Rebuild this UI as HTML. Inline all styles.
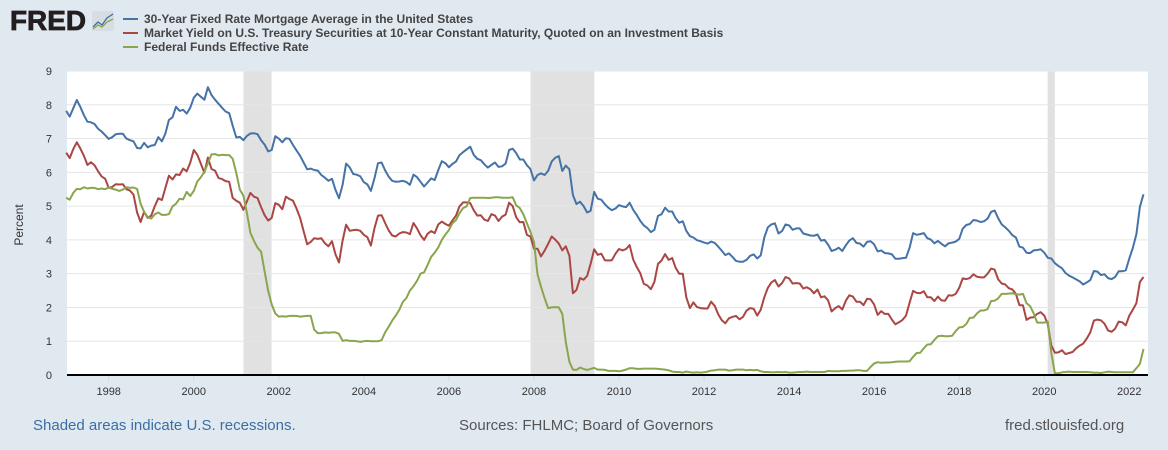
<!DOCTYPE html>
<html><head><meta charset="utf-8"><style>
body{margin:0;background:#e1e9f0;font-family:"Liberation Sans",sans-serif;}
#wrap{position:relative;width:1168px;height:450px;overflow:hidden;background:#e1e9f0;}
</style></head><body>
<div id="wrap">
<svg id="svg" width="1168" height="450" xmlns="http://www.w3.org/2000/svg">
<g>
<text x="10" y="30" font-family="Liberation Sans" font-weight="bold" font-size="28" fill="#231f20" textLength="76" lengthAdjust="spacingAndGlyphs" stroke="#231f20" stroke-width="0.8">FRED</text>
<rect x="92" y="11" width="22" height="20" rx="2" fill="#d8dde2"/>
<polyline points="93,27 98,22 102,25 107,18 113,14" fill="none" stroke="#3a6ea5" stroke-width="1.3"/>
<polyline points="93,29 98,25 102,27 107,22 113,19" fill="none" stroke="#89a54e" stroke-width="1.3"/>
</g>
<g>
<line x1="123" y1="19" x2="138" y2="19" stroke="#4572a7" stroke-width="2"/>
<text x="144" y="23" font-size="12" font-weight="bold" fill="#444">30-Year Fixed Rate Mortgage Average in the United States</text>
<line x1="123" y1="33" x2="138" y2="33" stroke="#aa4643" stroke-width="2"/>
<text x="144" y="37" font-size="12" font-weight="bold" fill="#444">Market Yield on U.S. Treasury Securities at 10-Year Constant Maturity, Quoted on an Investment Basis</text>
<line x1="123" y1="47" x2="138" y2="47" stroke="#89a54e" stroke-width="2"/>
<text x="144" y="51" font-size="12" font-weight="bold" fill="#444">Federal Funds Effective Rate</text>
</g>
<rect x="67" y="71" width="1081" height="304" fill="#fff"/>
<g id="rec"></g><g id="grid"></g><g id="series"></g><g id="axes"></g>
<text transform="translate(23,225) rotate(-90)" text-anchor="middle" font-size="12" fill="#333">Percent</text>
<text x="33" y="430" font-size="15" fill="#3a6ea5">Shaded areas indicate U.S. recessions.</text>
<text x="459" y="430" font-size="15" fill="#555">Sources: FHLMC; Board of Governors</text>
<text x="1005" y="430" font-size="15" fill="#555">fred.stlouisfed.org</text>
</svg>
</div>
<script>
const startYear = 1997;
const mortgage = [
7.82,7.65,7.90,8.14,7.94,7.69,7.50,7.48,7.43,7.29,7.21,7.10,
6.99,7.04,7.13,7.14,7.14,7.00,6.95,6.92,6.72,6.71,6.87,6.74,
6.79,6.81,7.04,6.92,7.15,7.55,7.63,7.94,7.82,7.85,7.74,7.91,
8.21,8.33,8.24,8.15,8.52,8.29,8.15,8.03,7.91,7.80,7.75,7.38,
7.03,7.05,6.95,7.08,7.15,7.16,7.13,6.95,6.82,6.62,6.66,7.07,
7.00,6.89,7.01,6.99,6.81,6.65,6.49,6.29,6.09,6.11,6.07,6.05,
5.92,5.84,5.75,5.81,5.48,5.23,5.63,6.26,6.15,5.95,5.93,5.88,
5.71,5.64,5.45,5.83,6.27,6.29,6.06,5.87,5.75,5.72,5.73,5.75,
5.71,5.63,5.93,5.86,5.72,5.58,5.70,5.82,5.77,6.07,6.33,6.27,
6.15,6.25,6.32,6.51,6.60,6.68,6.76,6.52,6.40,6.36,6.24,6.14,
6.22,6.29,6.16,6.18,6.26,6.66,6.70,6.57,6.38,6.38,6.21,6.10,
5.76,5.92,5.97,5.92,6.04,6.32,6.43,6.48,6.04,6.20,6.09,5.33,
5.06,5.13,5.00,4.81,4.86,5.42,5.22,5.19,5.06,4.95,4.88,4.93,
5.03,4.99,4.97,5.10,4.89,4.74,4.56,4.43,4.35,4.23,4.30,4.71,
4.76,4.95,4.84,4.84,4.64,4.51,4.55,4.27,4.11,4.07,3.99,3.96,
3.92,3.89,3.95,3.91,3.80,3.68,3.55,3.60,3.50,3.38,3.35,3.35,
3.41,3.53,3.57,3.45,3.54,4.07,4.37,4.46,4.49,4.19,4.26,4.46,
4.43,4.30,4.34,4.34,4.19,4.16,4.13,4.12,4.16,3.98,4.00,3.86,
3.67,3.71,3.77,3.67,3.84,3.98,4.05,3.91,3.89,3.80,3.94,3.96,
3.87,3.66,3.69,3.61,3.60,3.57,3.44,3.44,3.46,3.47,3.77,4.20,
4.15,4.17,4.20,4.05,4.01,3.90,3.97,3.88,3.81,3.90,3.92,3.95,
4.03,4.33,4.44,4.47,4.59,4.57,4.53,4.55,4.63,4.83,4.87,4.64,
4.46,4.37,4.27,4.14,4.07,3.80,3.77,3.62,3.61,3.69,3.70,3.72,
3.62,3.47,3.45,3.31,3.23,3.16,3.02,2.94,2.89,2.83,2.77,2.68,
2.74,2.81,3.08,3.06,2.96,2.98,2.87,2.84,2.90,3.07,3.07,3.10,
3.45,3.76,4.17,4.98,5.35];
const treasury = [
6.58,6.42,6.69,6.89,6.71,6.49,6.22,6.30,6.21,6.03,5.88,5.81,
5.54,5.57,5.65,5.64,5.65,5.50,5.46,5.34,4.81,4.53,4.83,4.65,
4.72,5.00,5.23,5.18,5.54,5.90,5.79,5.94,5.92,6.11,6.03,6.28,
6.66,6.52,6.26,5.99,6.44,6.10,6.05,5.83,5.80,5.74,5.72,5.24,
5.16,5.10,4.89,5.14,5.39,5.28,5.24,4.97,4.73,4.57,4.65,5.09,
5.04,4.91,5.28,5.21,5.16,4.93,4.65,4.26,3.87,3.94,4.05,4.03,
4.05,3.90,3.81,3.96,3.57,3.33,3.98,4.45,4.27,4.29,4.30,4.27,
4.15,4.08,3.83,4.35,4.72,4.73,4.50,4.28,4.13,4.10,4.19,4.23,
4.22,4.17,4.50,4.34,4.14,4.00,4.18,4.26,4.20,4.46,4.54,4.47,
4.42,4.57,4.72,4.99,5.11,5.11,5.09,4.88,4.72,4.73,4.60,4.56,
4.76,4.72,4.56,4.69,4.75,5.10,5.00,4.67,4.52,4.53,4.15,4.10,
3.74,3.74,3.51,3.68,3.88,4.10,4.01,3.89,3.69,3.81,3.53,2.42,
2.52,2.87,2.82,2.93,3.29,3.72,3.56,3.59,3.40,3.39,3.40,3.59,
3.73,3.69,3.73,3.85,3.42,3.20,3.01,2.70,2.65,2.54,2.76,3.29,
3.39,3.58,3.41,3.46,3.17,3.00,3.00,2.30,1.98,2.15,2.01,1.98,
1.97,1.97,2.17,2.05,1.80,1.62,1.53,1.68,1.72,1.75,1.65,1.72,
1.91,1.98,1.96,1.76,1.93,2.30,2.58,2.74,2.81,2.62,2.72,2.90,
2.86,2.71,2.72,2.71,2.56,2.60,2.54,2.42,2.53,2.30,2.33,2.21,
1.88,1.98,2.04,1.94,2.20,2.36,2.32,2.17,2.17,2.07,2.26,2.24,
2.09,1.78,1.89,1.81,1.81,1.64,1.50,1.56,1.63,1.76,2.14,2.49,
2.43,2.42,2.48,2.30,2.30,2.19,2.32,2.21,2.20,2.36,2.35,2.40,
2.58,2.86,2.84,2.87,2.98,2.91,2.89,2.89,3.00,3.15,3.12,2.83,
2.71,2.68,2.57,2.53,2.40,2.07,2.06,1.63,1.70,1.71,1.81,1.86,
1.76,1.50,0.87,0.66,0.67,0.73,0.62,0.65,0.68,0.79,0.87,0.93,
1.08,1.26,1.61,1.64,1.62,1.52,1.32,1.28,1.37,1.58,1.56,1.47,
1.76,1.93,2.13,2.75,2.90];
const fedfunds = [
5.25,5.19,5.39,5.51,5.50,5.56,5.52,5.54,5.54,5.50,5.52,5.50,
5.56,5.51,5.49,5.45,5.49,5.56,5.54,5.55,5.51,5.07,4.83,4.68,
4.63,4.76,4.81,4.74,4.74,4.76,4.99,5.07,5.22,5.20,5.42,5.30,
5.45,5.73,5.85,6.02,6.27,6.53,6.54,6.50,6.52,6.51,6.51,6.40,
5.98,5.49,5.31,4.80,4.21,3.97,3.77,3.65,3.07,2.49,2.09,1.82,
1.73,1.74,1.73,1.75,1.75,1.75,1.73,1.74,1.75,1.75,1.34,1.24,
1.24,1.26,1.25,1.26,1.26,1.22,1.01,1.03,1.01,1.01,1.00,0.98,
1.00,1.01,1.00,1.00,1.00,1.03,1.26,1.43,1.61,1.76,1.93,2.16,
2.28,2.50,2.63,2.79,3.00,3.04,3.26,3.50,3.62,3.78,4.00,4.16,
4.29,4.49,4.59,4.79,4.94,4.99,5.24,5.25,5.25,5.25,5.25,5.24,
5.25,5.26,5.26,5.25,5.25,5.25,5.26,5.02,4.94,4.76,4.49,4.24,
3.94,2.98,2.61,2.28,1.98,2.00,2.01,2.00,1.81,0.97,0.39,0.16,
0.15,0.22,0.18,0.15,0.18,0.21,0.16,0.16,0.15,0.12,0.12,0.12,
0.11,0.13,0.16,0.20,0.20,0.18,0.18,0.19,0.19,0.19,0.19,0.18,
0.17,0.16,0.14,0.10,0.09,0.09,0.07,0.10,0.08,0.07,0.08,0.07,
0.08,0.10,0.13,0.14,0.16,0.16,0.16,0.13,0.14,0.16,0.16,0.16,
0.14,0.15,0.14,0.15,0.11,0.09,0.09,0.08,0.08,0.09,0.08,0.09,
0.07,0.07,0.08,0.09,0.09,0.10,0.09,0.09,0.09,0.09,0.09,0.12,
0.11,0.11,0.11,0.12,0.12,0.13,0.13,0.14,0.14,0.12,0.12,0.24,
0.34,0.38,0.36,0.37,0.37,0.38,0.39,0.40,0.40,0.40,0.41,0.54,
0.65,0.66,0.79,0.90,0.91,1.04,1.15,1.16,1.15,1.15,1.16,1.30,
1.41,1.42,1.51,1.69,1.70,1.82,1.91,1.91,1.95,2.19,2.20,2.27,
2.40,2.40,2.41,2.42,2.39,2.38,2.40,2.13,2.04,1.83,1.55,1.55,
1.55,1.58,0.65,0.05,0.05,0.08,0.09,0.10,0.09,0.09,0.09,0.09,
0.09,0.08,0.07,0.07,0.06,0.08,0.10,0.09,0.08,0.08,0.08,0.08,
0.08,0.08,0.20,0.33,0.77];
const recStarts = [2001.17, 2007.92, 2020.08];
const recEnds = [2001.83, 2009.42, 2020.25];
const yTicks = [0,1,2,3,4,5,6,7,8,9];
const xTicks = [1998,2000,2002,2004,2006,2008,2010,2012,2014,2016,2018,2020,2022];

const NS = 'http://www.w3.org/2000/svg';
const X0 = 67, X1 = 1148, Y0 = 375, Y1 = 71;
function xs(t){ return 108.7 + (t - 1998) * 42.525; }
function ys(v){ return Y0 - v * (Y0 - Y1) / 9; }
function mk(tag, attrs, parent){ const e = document.createElementNS(NS, tag); for (const k in attrs) e.setAttribute(k, attrs[k]); parent.appendChild(e); return e; }

const rec = document.getElementById('rec');
recStarts.forEach((s, i) => {
  const r = mk('rect', {x: xs(s), y: Y1, width: xs(recEnds[i]) - xs(s), height: Y0 - Y1, fill: '#e1e1e1'}, rec);
  
  
});
const grid = document.getElementById('grid');
const axes = document.getElementById('axes');
yTicks.forEach(v => {
  if (v > 0) {
    const l = mk('line', {x1: X0, x2: X1, y1: ys(v), y2: ys(v), stroke: '#e6e6e6', 'stroke-width': 1}, grid);
    
    
  }
  const t = mk('text', {x: 52, y: ys(v) + 4, 'text-anchor': 'end', 'font-size': 11, fill: '#333'}, axes);
  t.textContent = v;
  
  
});
xTicks.forEach(yr => {
  const tk = mk('line', {x1: xs(yr), x2: xs(yr), y1: Y0, y2: Y0 + 6, stroke: '#ccd6eb'}, axes);
  
  
  const t = mk('text', {x: xs(yr), y: 395, 'text-anchor': 'middle', 'font-size': 11, fill: '#333'}, axes);
  t.textContent = yr;
  
  
});
const ax = mk('line', {x1: X0, x2: X1, y1: Y0, y2: Y0, stroke: '#000', 'stroke-width': 2}, axes);



const ser = document.getElementById('series');
[[treasury,'#aa4643','treasury-line'],[fedfunds,'#89a54e','fedfunds-line'],[mortgage,'#4572a7','mortgage-line']].forEach(([arr, col, name]) => {
  const d = arr.map((v, i) => (i ? 'L' : 'M') + xs(startYear + i / 12).toFixed(1) + ',' + ys(v).toFixed(1)).join('');
  const p = mk('path', {d: d, fill: 'none', stroke: col, 'stroke-width': 2, 'stroke-linejoin': 'round'}, ser);
  
  
});
</script>
</body></html>
